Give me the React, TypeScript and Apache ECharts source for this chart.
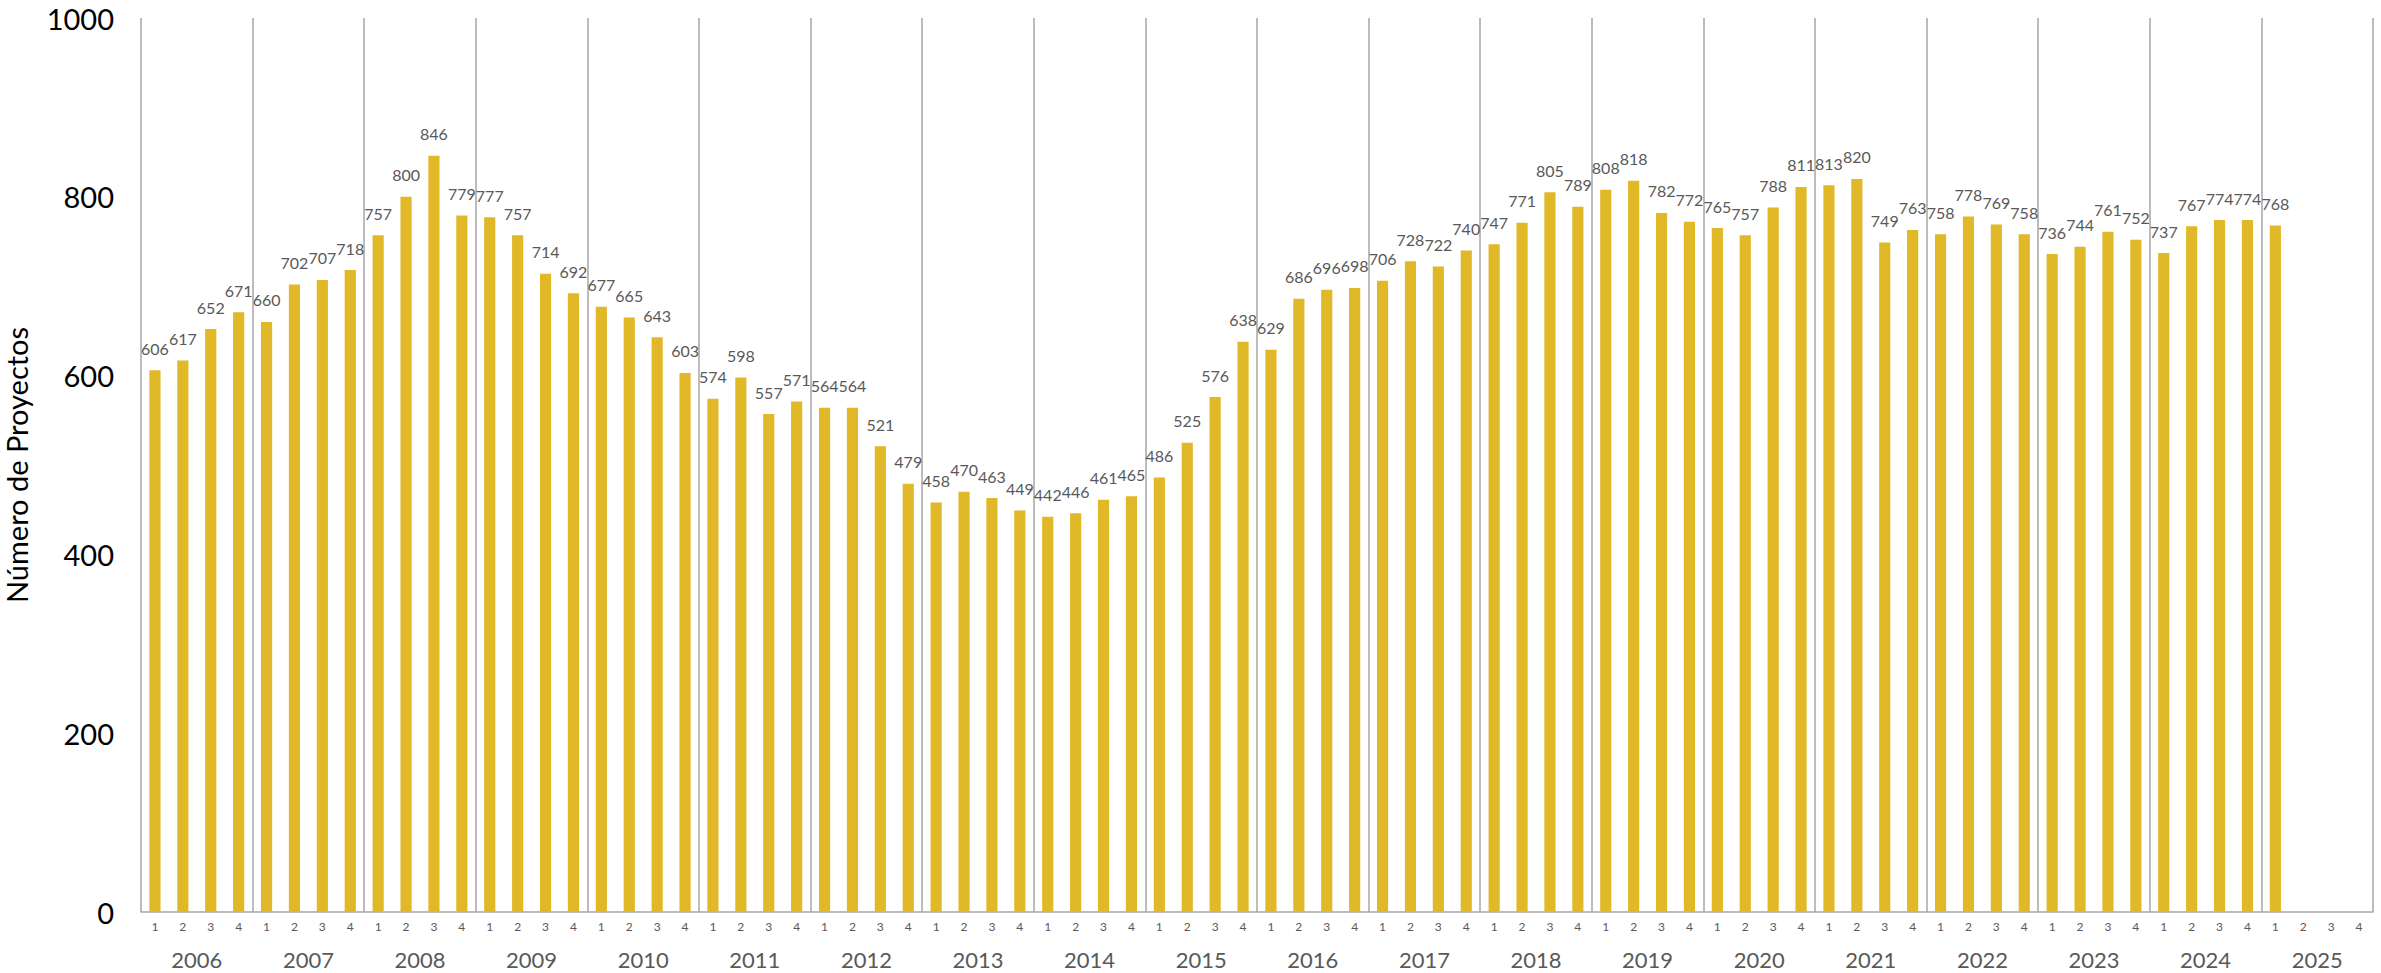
import React, { useEffect, useRef } from "react";
import * as echarts from "echarts";

const years = ["2006","2007","2008","2009","2010","2011","2012","2013","2014","2015","2016","2017","2018","2019","2020","2021","2022","2023","2024","2025"];
const quarterLabels = ["1","2","3","4"];
const values: (number | null)[] = [
  606, 617, 652, 671,
  660, 702, 707, 718,
  757, 800, 846, 779,
  777, 757, 714, 692,
  677, 665, 643, 603,
  574, 598, 557, 571,
  564, 564, 521, 479,
  458, 470, 463, 449,
  442, 446, 461, 465,
  486, 525, 576, 638,
  629, 686, 696, 698,
  706, 728, 722, 740,
  747, 771, 805, 789,
  808, 818, 782, 772,
  765, 757, 788, 811,
  813, 820, 749, 763,
  758, 778, 769, 758,
  736, 744, 761, 752,
  737, 767, 774, 774,
  768, null, null, null,
];
const yTicks = { min: 0, max: 1000, interval: 200 };
const yName = "Número de Proyectos";

const categories: string[] = [];
years.forEach((y) => quarterLabels.forEach((q) => categories.push(y + "-" + q)));

export default function App() {
  const ref = useRef<HTMLDivElement>(null);
  useEffect(() => {
    if (!ref.current) return;
    const chart = echarts.init(ref.current, undefined, { renderer: "svg" });
    const font = "Lato, 'Open Sans', sans-serif";
    chart.setOption({
      animation: false,
      backgroundColor: "#ffffff",
      textStyle: { fontFamily: font },
      grid: {
        left: 141,
        right: 8,
        top: 18,
        bottom: 61,
        containLabel: false,
        outerBoundsMode: "none",
      },
      xAxis: [
        {
          type: "category",
          data: categories,
          position: "bottom",
          axisLine: { show: true, lineStyle: { color: "#A6A6A6", width: 1.5 } },
          axisTick: { show: false },
          axisLabel: {
            interval: 0,
            color: "#595959",
            fontSize: 12,
            fontFamily: font,
            margin: 8,
            formatter: (v: string) => v.split("-")[1],
          },
          splitLine: { show: false },
        },
        {
          type: "category",
          data: years,
          position: "bottom",
          axisLine: { show: false },
          axisTick: { show: false },
          axisLabel: {
            interval: 0,
            color: "#595959",
            fontSize: 22,
            fontFamily: font,
            margin: 36,
          },
          splitLine: {
            show: true,
            interval: 0,
            showMinLine: true,
            showMaxLine: true,
            lineStyle: { color: "#A6A6A6", width: 1.5 },
          },
        },
      ],
      yAxis: {
        type: "value",
        min: yTicks.min,
        max: yTicks.max,
        interval: yTicks.interval,
        name: yName,
        nameLocation: "middle",
        nameGap: 110,
        nameTextStyle: { color: "#000000", fontSize: 29, fontFamily: font },
        axisLine: { show: false },
        axisTick: { show: false },
        splitLine: { show: false },
        axisLabel: {
          color: "#000000",
          fontSize: 29,
          fontFamily: font,
          margin: 27,
          formatter: (v: number) => String(v),
        },
      },
      series: [
        {
          type: "bar",
          xAxisIndex: 0,
          data: values,
          barWidth: "40%",
          itemStyle: { color: "#E1B827" },
          label: {
            show: true,
            position: "top",
            distance: 14,
            color: "#595959",
            fontSize: 16,
            fontFamily: font,
          },
        },
      ],
    });
    return () => chart.dispose();
  }, []);
  return (
    <div
      ref={ref}
      style={{ position: "fixed", left: 0, top: 0, width: 2381, height: 973 }}
    />
  );
}
